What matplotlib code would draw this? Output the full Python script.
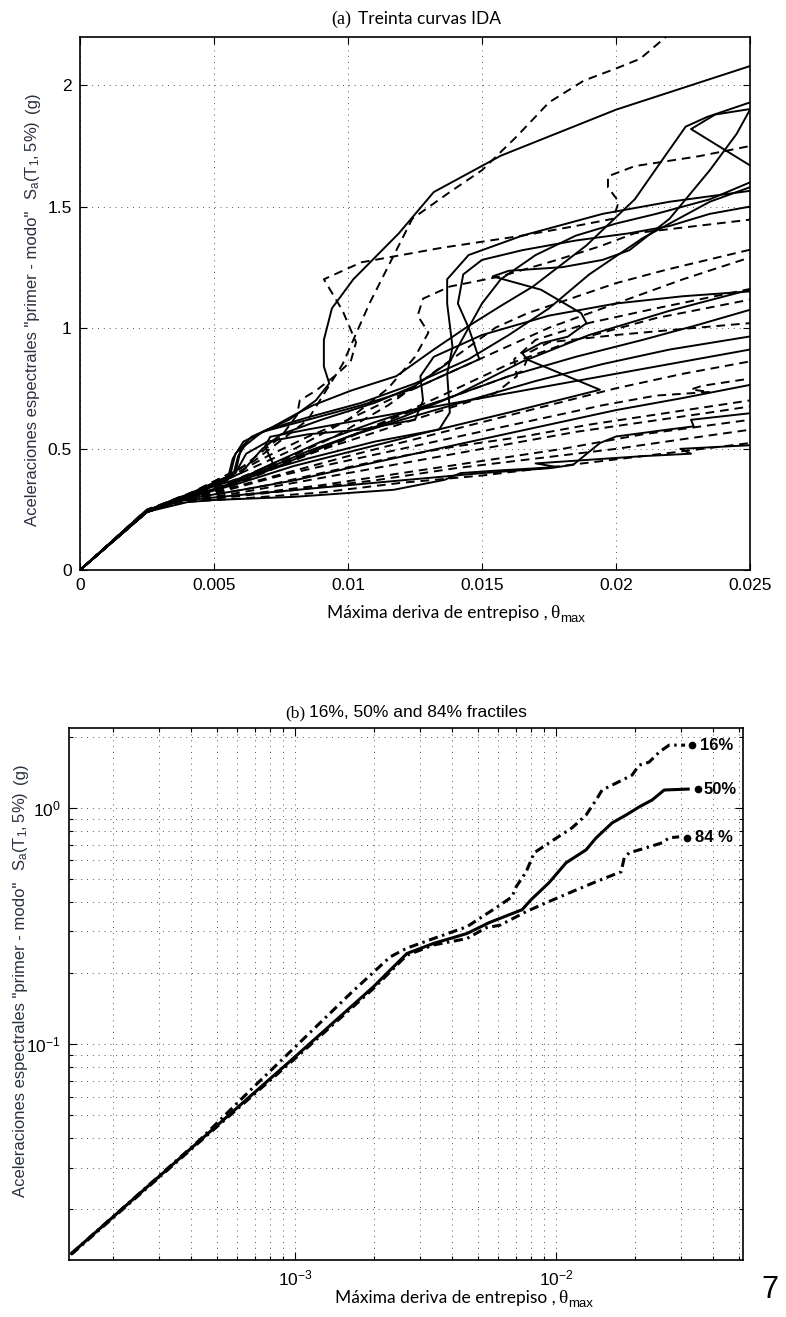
"""Treinta curvas IDA + fractiles 16/50/84 % (dos paneles)."""

import matplotlib
matplotlib.use("Agg")
import matplotlib.pyplot as plt
from matplotlib.transforms import IdentityTransform

# ---------------- datos (a): 30 curvas IDA, Sa creciente ----------------
ida_solid_drift = [
    [0, 0.0025, 0.0035, 0.0045, 0.0056, 0.0058, 0.0064, 0.0078, 0.0088, 0.0093, 0.0091, 0.0091, 0.0094, 0.0102, 0.0119, 0.0132, 0.0157, 0.0200, 0.0250, 0.0270],
    [0, 0.0026, 0.0040, 0.0057, 0.0059, 0.0063, 0.0071, 0.0080, 0.0087, 0.0101, 0.0118, 0.0132, 0.0144, 0.0157, 0.0169, 0.0189, 0.0207, 0.0219, 0.0226, 0.0234, 0.0250, 0.0270],
    [0, 0.0024, 0.0036, 0.0055, 0.0057, 0.0061, 0.0070, 0.0085, 0.0105, 0.0125, 0.0145, 0.0160, 0.0175, 0.0190, 0.0210, 0.0235, 0.0260, 0.0250, 0.0228, 0.0237, 0.0260],
    [0, 0.0025, 0.0040, 0.0060, 0.0068, 0.0075, 0.0090, 0.0110, 0.0125, 0.0138, 0.0145, 0.0150, 0.0157, 0.0170, 0.0185, 0.0200, 0.0215, 0.0235, 0.0250, 0.0270],
    [0, 0.0024, 0.0038, 0.0060, 0.0080, 0.0105, 0.0130, 0.0160, 0.0194, 0.0167, 0.0165, 0.0172, 0.0182, 0.0189, 0.0187, 0.0172, 0.0154, 0.0160, 0.0180, 0.0195, 0.0205, 0.0220, 0.0235, 0.0245, 0.0250, 0.0270],
    [0, 0.0025, 0.0037, 0.0060, 0.0085, 0.0110, 0.0134, 0.0138, 0.0137, 0.0139, 0.0137, 0.0137, 0.0145, 0.0165, 0.0195, 0.0220, 0.0250, 0.0270],
    [0, 0.0025, 0.0036, 0.0058, 0.0060, 0.0068, 0.0085, 0.0105, 0.0125, 0.0149, 0.0145, 0.0141, 0.0143, 0.0150, 0.0165, 0.0185, 0.0205, 0.0220, 0.0235, 0.0260],
    [0, 0.0025, 0.0035, 0.0050, 0.0068, 0.0085, 0.0100, 0.0120, 0.0140, 0.0165, 0.0190, 0.0220, 0.0250, 0.0270],
    [0, 0.0024, 0.0036, 0.0055, 0.0072, 0.0090, 0.0110, 0.0135, 0.0160, 0.0185, 0.0210, 0.0230, 0.0250, 0.0270],
    [0, 0.0025, 0.0036, 0.0052, 0.0070, 0.0085, 0.0100, 0.0120, 0.0145, 0.0170, 0.0195, 0.0220, 0.0250, 0.0270],
    [0, 0.0025, 0.0038, 0.0060, 0.0080, 0.0100, 0.0125, 0.0150, 0.0175, 0.0200, 0.0225, 0.0250],
    [0, 0.0025, 0.0040, 0.0050, 0.0080, 0.0117, 0.0136, 0.0142, 0.0155, 0.0178, 0.0170, 0.0190, 0.0210, 0.0228, 0.0224, 0.0250, 0.0270],
    [0, 0.0025, 0.0037, 0.0055, 0.0072, 0.0069, 0.0071, 0.0085, 0.0105, 0.0125, 0.0145, 0.0165, 0.0190, 0.0220, 0.0250, 0.0270],
    [0, 0.0025, 0.0036, 0.0058, 0.0062, 0.0070, 0.0085, 0.0105, 0.0125, 0.0128, 0.0127, 0.0132, 0.0150, 0.0175, 0.0200, 0.0225, 0.0250, 0.0270],
    [0, 0.0025, 0.0037, 0.0060, 0.0090, 0.0120, 0.0150, 0.0175, 0.0184, 0.0194, 0.0200, 0.0219, 0.0229, 0.0228, 0.0250, 0.0270],
]
ida_solid_sa = [
    [0, 0.245, 0.29, 0.33, 0.39, 0.48, 0.55, 0.62, 0.70, 0.77, 0.84, 0.95, 1.08, 1.20, 1.39, 1.56, 1.71, 1.90, 2.08, 2.15],
    [0, 0.25, 0.30, 0.385, 0.47, 0.54, 0.585, 0.64, 0.68, 0.74, 0.80, 0.91, 1.00, 1.09, 1.17, 1.34, 1.53, 1.72, 1.83, 1.87, 1.93, 1.97],
    [0, 0.24, 0.29, 0.37, 0.46, 0.53, 0.58, 0.63, 0.69, 0.77, 0.87, 0.97, 1.08, 1.22, 1.37, 1.52, 1.62, 1.67, 1.82, 1.88, 1.92],
    [0, 0.24, 0.30, 0.40, 0.50, 0.56, 0.62, 0.69, 0.76, 0.86, 1.00, 1.10, 1.20, 1.30, 1.38, 1.43, 1.47, 1.53, 1.60, 1.66],
    [0, 0.235, 0.29, 0.36, 0.43, 0.50, 0.57, 0.65, 0.744, 0.868, 0.895, 0.936, 0.963, 1.019, 1.06, 1.157, 1.212, 1.235, 1.25, 1.28, 1.32, 1.45, 1.65, 1.80, 1.90, 1.95],
    [0, 0.245, 0.30, 0.38, 0.46, 0.53, 0.58, 0.65, 0.81, 0.92, 1.10, 1.20, 1.30, 1.38, 1.47, 1.52, 1.565, 1.60],
    [0, 0.24, 0.29, 0.40, 0.50, 0.57, 0.62, 0.68, 0.75, 0.87, 1.00, 1.10, 1.22, 1.28, 1.32, 1.36, 1.39, 1.42, 1.47, 1.52],
    [0, 0.24, 0.28, 0.33, 0.40, 0.48, 0.55, 0.63, 0.72, 0.86, 0.97, 1.07, 1.157, 1.21],
    [0, 0.235, 0.28, 0.35, 0.44, 0.53, 0.61, 0.70, 0.80, 0.88, 0.95, 1.01, 1.074, 1.12],
    [0, 0.245, 0.29, 0.34, 0.42, 0.49, 0.55, 0.62, 0.70, 0.78, 0.85, 0.91, 0.964, 1.00],
    [0, 0.24, 0.29, 0.33, 0.37, 0.42, 0.48, 0.54, 0.60, 0.66, 0.71, 0.764],
    [0, 0.24, 0.28, 0.289, 0.302, 0.331, 0.372, 0.40, 0.41, 0.425, 0.44, 0.455, 0.47, 0.48, 0.50, 0.515, 0.525],
    [0, 0.24, 0.29, 0.35, 0.44, 0.51, 0.55, 0.58, 0.62, 0.66, 0.70, 0.74, 0.79, 0.85, 0.91, 0.95],
    [0, 0.245, 0.29, 0.40, 0.48, 0.53, 0.56, 0.58, 0.62, 0.70, 0.80, 0.88, 0.97, 1.05, 1.10, 1.13, 1.15, 1.16],
    [0, 0.24, 0.285, 0.31, 0.34, 0.37, 0.40, 0.42, 0.434, 0.524, 0.551, 0.579, 0.593, 0.62, 0.647, 0.66],
]
ida_dashed_drift = [
    [0, 0.0025, 0.0040, 0.0065, 0.0085, 0.0098, 0.0108, 0.0124, 0.0138, 0.0150, 0.0163, 0.0175, 0.0188, 0.0200, 0.0209, 0.0225],
    [0, 0.0026, 0.0040, 0.0060, 0.0075, 0.0081, 0.0082, 0.0088, 0.0095, 0.0101, 0.0103, 0.0098, 0.0091, 0.0105, 0.0135, 0.0165, 0.0185, 0.0199, 0.0201, 0.0197, 0.0197, 0.0207, 0.0231, 0.0250, 0.0270],
    [0, 0.0025, 0.0038, 0.0060, 0.0080, 0.0100, 0.0115, 0.0125, 0.0130, 0.0126, 0.0128, 0.0138, 0.0157, 0.0178, 0.0194, 0.0207, 0.0230, 0.0250, 0.0270],
    [0, 0.0025, 0.0037, 0.0055, 0.0075, 0.0095, 0.0115, 0.0130, 0.0145, 0.0155, 0.0167, 0.0182, 0.0200, 0.0219, 0.0250, 0.0270],
    [0, 0.0025, 0.0036, 0.0055, 0.0075, 0.0095, 0.0115, 0.0135, 0.0160, 0.0185, 0.0215, 0.0250, 0.0270],
    [0, 0.0024, 0.0037, 0.0058, 0.0078, 0.0098, 0.0120, 0.0145, 0.0165, 0.0168, 0.0175, 0.0200, 0.0225, 0.0250, 0.0270],
    [0, 0.0025, 0.0038, 0.0060, 0.0080, 0.0100, 0.0125, 0.0150, 0.0175, 0.0200, 0.0225, 0.0250, 0.0270],
    [0, 0.0025, 0.0036, 0.0055, 0.0075, 0.0095, 0.0120, 0.0145, 0.0170, 0.0195, 0.0215, 0.0235, 0.0228, 0.0232, 0.0250, 0.0270],
    [0, 0.0025, 0.0037, 0.0060, 0.0085, 0.0110, 0.0135, 0.0160, 0.0185, 0.0210, 0.0235, 0.0250, 0.0270],
    [0, 0.0025, 0.0038, 0.0060, 0.0090, 0.0120, 0.0150, 0.0180, 0.0210, 0.0250, 0.0270],
    [0, 0.0024, 0.0036, 0.0055, 0.0080, 0.0110, 0.0140, 0.0170, 0.0200, 0.0225, 0.0250, 0.0270],
    [0, 0.0025, 0.0037, 0.0060, 0.0090, 0.0120, 0.0150, 0.0180, 0.0210, 0.0250, 0.0270],
    [0, 0.0025, 0.0037, 0.0055, 0.0070, 0.0085, 0.0100, 0.0115, 0.0135, 0.0155, 0.0175, 0.0200, 0.0225, 0.0250, 0.0270],
    [0, 0.0024, 0.0036, 0.0058, 0.0080, 0.0105, 0.0130, 0.0155, 0.0163, 0.0162, 0.0170, 0.0190, 0.0215, 0.0250, 0.0270],
    [0, 0.0025, 0.0035, 0.0050, 0.0070, 0.0090, 0.0115, 0.0140, 0.0165, 0.0190, 0.0220, 0.0250, 0.0270],
]
ida_dashed_sa = [
    [0, 0.25, 0.31, 0.45, 0.62, 0.85, 1.10, 1.45, 1.56, 1.65, 1.79, 1.93, 2.02, 2.07, 2.11, 2.26],
    [0, 0.25, 0.31, 0.42, 0.55, 0.64, 0.70, 0.74, 0.80, 0.86, 0.94, 1.07, 1.20, 1.27, 1.33, 1.38, 1.42, 1.45, 1.52, 1.58, 1.625, 1.667, 1.708, 1.75, 1.79],
    [0, 0.24, 0.30, 0.40, 0.50, 0.62, 0.75, 0.88, 0.98, 1.05, 1.12, 1.17, 1.212, 1.28, 1.336, 1.39, 1.42, 1.446, 1.47],
    [0, 0.245, 0.30, 0.36, 0.45, 0.55, 0.68, 0.80, 0.92, 1.00, 1.06, 1.116, 1.184, 1.24, 1.322, 1.36],
    [0, 0.24, 0.285, 0.34, 0.43, 0.52, 0.62, 0.72, 0.85, 0.95, 1.04, 1.116, 1.15],
    [0, 0.235, 0.29, 0.36, 0.45, 0.54, 0.64, 0.74, 0.82, 0.90, 0.94, 0.97, 0.995, 1.019, 1.04],
    [0, 0.245, 0.29, 0.35, 0.41, 0.47, 0.54, 0.61, 0.68, 0.75, 0.81, 0.861, 0.89],
    [0, 0.24, 0.28, 0.33, 0.39, 0.44, 0.50, 0.56, 0.62, 0.68, 0.72, 0.735, 0.745, 0.76, 0.79, 0.81],
    [0, 0.24, 0.28, 0.32, 0.37, 0.42, 0.47, 0.52, 0.57, 0.61, 0.65, 0.675, 0.70],
    [0, 0.245, 0.285, 0.31, 0.35, 0.40, 0.45, 0.50, 0.56, 0.62, 0.65],
    [0, 0.235, 0.28, 0.30, 0.33, 0.37, 0.42, 0.46, 0.50, 0.54, 0.579, 0.60],
    [0, 0.24, 0.28, 0.295, 0.32, 0.36, 0.39, 0.43, 0.47, 0.524, 0.54],
    [0, 0.245, 0.30, 0.38, 0.47, 0.55, 0.62, 0.70, 0.80, 0.90, 1.00, 1.10, 1.20, 1.29, 1.35],
    [0, 0.24, 0.29, 0.37, 0.46, 0.55, 0.64, 0.73, 0.80, 0.87, 0.95, 1.02, 1.08, 1.16, 1.19],
    [0, 0.24, 0.28, 0.31, 0.35, 0.40, 0.46, 0.51, 0.55, 0.60, 0.65, 0.70, 0.72],
]
xticks_a = [0, 0.005, 0.01, 0.015, 0.02, 0.025]
xticklabels_a = ["0", "0.005", "0.01", "0.015", "0.02", "0.025"]
yticks_a = [0, 0.5, 1, 1.5, 2]
yticklabels_a = ["0", "0.5", "1", "1.5", "2"]

# ---------------- datos (b): fractiles ----------------
p16_drift = [1.39e-4, 4.33e-4, 6.73e-4, 1.045e-3, 1.63e-3, 2.31e-3, 2.68e-3, 3.39e-3, 4.55e-3, 6.10e-3, 6.78e-3, 7.03e-3, 7.68e-3, 8.24e-3,
             9.40e-3, 0.01151, 0.01303, 0.01423, 0.0150, 0.01698, 0.01955, 0.0208, 0.02271, 0.02481, 0.0271, 0.0312]
p16_sa = [0.0130, 0.0395, 0.0638, 0.102, 0.164, 0.234, 0.255, 0.280, 0.314, 0.388, 0.421, 0.464, 0.537, 0.646,
          0.712, 0.824, 0.934, 1.081, 1.191, 1.274, 1.378, 1.518, 1.563, 1.722, 1.845, 1.845]
p50_drift = [1.39e-4, 4.33e-4, 1.0e-3, 1.995e-3, 2.68e-3, 3.39e-3, 4.55e-3, 5.54e-3, 6.10e-3, 7.41e-3, 8.02e-3, 9.40e-3,
             0.01092, 0.01303, 0.01423, 0.0164, 0.01855, 0.0208, 0.02333, 0.02594, 0.03206]
p50_sa = [0.0130, 0.0392, 0.0885, 0.175, 0.242, 0.267, 0.294, 0.327, 0.341, 0.371, 0.409, 0.483,
          0.586, 0.665, 0.747, 0.865, 0.934, 1.01, 1.081, 1.191, 1.202]
p84_drift = [1.39e-4, 4.33e-4, 1.0e-3, 1.995e-3, 2.68e-3, 3.39e-3, 4.55e-3, 5.39e-3, 6.10e-3, 7.68e-3, 9.16e-3, 0.01151,
             0.01423, 0.01775, 0.01823, 0.01905, 0.02213, 0.02547, 0.0271, 0.0296]
p84_sa = [0.0129, 0.0388, 0.087, 0.172, 0.238, 0.263, 0.280, 0.311, 0.319, 0.364, 0.397, 0.442,
          0.4875, 0.537, 0.615, 0.646, 0.678, 0.712, 0.747, 0.755]
frac_names = ["16%", "50%", "84 %"]
frac_dot_x = [0.0332, 0.0350, 0.0318]
frac_label_x = [0.0355, 0.0366, 0.0340]
frac_level = [1.845, 1.202, 0.747]

plt.rcParams["font.family"] = ["Liberation Sans", "DejaVu Sans"]
plt.rcParams["mathtext.default"] = "regular"

W, H = 786, 1317
fig = plt.figure(figsize=(W / 100, H / 100), dpi=100)


def px_axes(left, top, right, bottom):
    return fig.add_axes([left / W, 1 - bottom / H, (right - left) / W, (bottom - top) / H])


def place_parts(cx, cy, parts, rotation=0):
    """Pone trozos de texto con fuentes distintas uno tras otro (px, origen abajo-izq)."""
    r = fig.canvas.get_renderer()
    items = []
    for p in parts:
        if isinstance(p, (int, float)):
            items.append((None, p, 0))
            continue
        s, kw, off = p
        t = fig.text(0, 0, s, transform=IdentityTransform(), rotation=rotation,
                     rotation_mode="anchor", ha="left", va="baseline", **kw)
        bb = t.get_window_extent(r)
        items.append((t, bb.width if rotation == 0 else bb.height, off))
    total = sum(size for _, size, _ in items)
    pos = (cx if rotation == 0 else cy) - total / 2
    for t, size, off in items:
        if t is not None:
            if rotation == 0:
                t.set_position((pos, cy - off))
            else:
                t.set_position((cx + off, pos))
        pos += size


grid_style = dict(linestyle=(0, (1, 5)), color="#555555", linewidth=0.7)

# ---------------- (a) ----------------
ax1 = px_axes(80, 37, 750, 570)
for xs, ys in zip(ida_solid_drift, ida_solid_sa):
    ax1.plot(xs, ys, color="k", lw=1.4, solid_joinstyle="round")
for xs, ys in zip(ida_dashed_drift, ida_dashed_sa):
    ax1.plot(xs, ys, color="k", lw=1.4, linestyle=(0, (4.5, 3)))
ax1.set_xlim(0, 0.025)
ax1.set_ylim(0, 2.2)
ax1.set_xticks(xticks_a)
ax1.set_xticklabels(xticklabels_a)
ax1.set_yticks(yticks_a)
ax1.set_yticklabels(yticklabels_a)
ax1.grid(True, **grid_style)
ax1.tick_params(direction="in", top=True, right=True, length=5, width=0.8, labelsize=12.5, pad=6)
for sp in ax1.spines.values():
    sp.set_linewidth(1.2)

# ---------------- (b) ----------------
ax2 = px_axes(69, 728, 743, 1260)
ax2.set_xscale("log")
ax2.set_yscale("log")
ax2.plot(p16_drift, p16_sa, color="k", lw=2.2, linestyle=(0, (3, 1.5, 0.8, 1.5)))
ax2.plot(p50_drift, p50_sa, color="k", lw=2.2)
ax2.plot(p84_drift, p84_sa, color="k", lw=2.2, linestyle=(0, (3, 1.5, 0.8, 1.5)))
for name, dx, lx, lv in zip(frac_names, frac_dot_x, frac_label_x, frac_level):
    ax2.plot(dx, lv, "o", color="k", ms=4.5)
    ax2.text(lx, lv, name, fontsize=12, fontweight="bold", va="center", ha="left")
ax2.set_xlim(1.36e-4, 0.052)
ax2.set_ylim(0.0122, 2.18)
ax2.grid(True, which="both", **grid_style)
ax2.tick_params(which="both", direction="in", top=True, right=True, width=0.8, labelsize=12.5, pad=6)
ax2.tick_params(which="major", length=6)
ax2.tick_params(which="minor", length=3)
for sp in ax2.spines.values():
    sp.set_linewidth(1.2)

# ---------------- textos ----------------
serif = dict(family=["Liberation Serif", "DejaVu Serif"], fontsize=13)
calibri = dict(family=["Lato", "DejaVu Sans"], fontsize=12.5)
sans = dict(family=["Liberation Sans", "DejaVu Sans"])

place_parts(416, H - 24, [("(a)", serif, 0), 7, ("Treinta curvas IDA", calibri, 0)])
place_parts(406, H - 717, [("(b)", dict(serif, fontsize=12.5), 0), 4,
                           ("16%, 50% and 84% fractiles", dict(family=["Liberation Sans Narrow", "Liberation Sans"], fontsize=12.5), 0)])

for cx, base in [(456, 618), (464, 1303)]:
    place_parts(cx, H - base, [("Máxima deriva de entrepiso ,", calibri, 0), 3,
                               ("θ", dict(serif, fontsize=14), 0), 1,
                               ("max", dict(sans, fontsize=9.5), 4)])

ylab = dict(sans, fontsize=12, color="#2a3140")
for cx, cy in [(37, H - 309), (25, H - 980)]:
    place_parts(cx, cy, [('Aceleraciones espectrales "primer - modo"', ylab, 0), 10,
                         (r"$S_a(T_1, 5\%)$", ylab, 0), 8,
                         ("(g)", ylab, 0)], rotation=90)

fig.text(770, H - 1290, "7", transform=IdentityTransform(), fontsize=22, ha="center", va="center")

fig.savefig("out.png", dpi=100)
